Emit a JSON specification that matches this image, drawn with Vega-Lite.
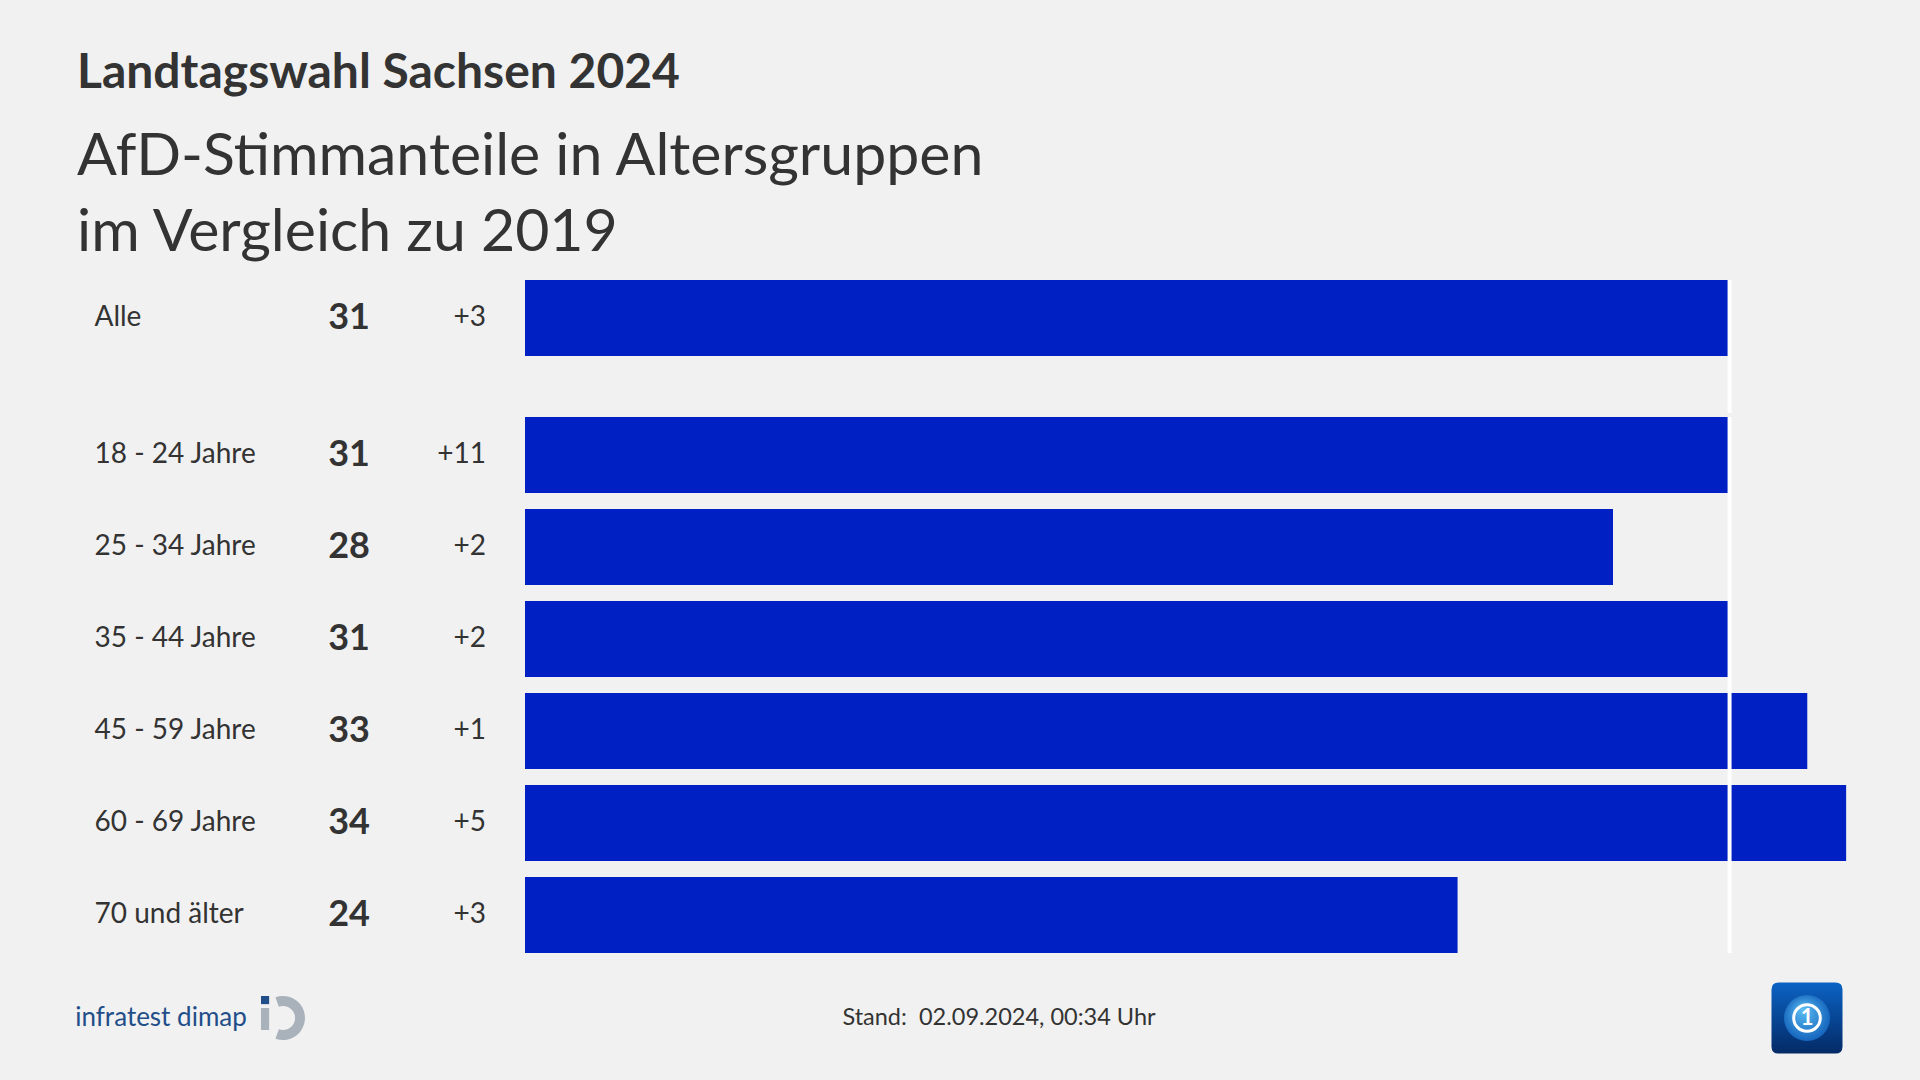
{
  "$schema": "https://vega.github.io/schema/vega-lite/v6.json",
  "background": "#f1f1f1",
  "padding": {"left": 75, "top": 50, "right": 35, "bottom": 5},
  "config": {
    "view": {"stroke": null},
    "text": {"font": "Lato", "color": "#333333"},
    "axis": {"labelFont": "Lato"}
  },
  "title": {
    "text": "Landtagswahl Sachsen 2024",
    "subtitle": ["AfD-Stimmanteile in Altersgruppen", "im Vergleich zu 2019"],
    "anchor": "start",
    "frame": "bounds",
    "font": "Lato",
    "fontSize": 48,
    "fontWeight": "bold",
    "color": "#333333",
    "subtitleFont": "Lato",
    "subtitleFontSize": 59,
    "subtitleFontWeight": "normal",
    "subtitleColor": "#333333",
    "subtitleLineHeight": 76,
    "subtitlePadding": 30,
    "offset": 15,
    "dx": 2
  },
  "datasets": {
    "alle": [
      {"gruppe": "Alle", "anteil": 31, "diff": 3}
    ],
    "alter": [
      {"gruppe": "18 - 24 Jahre", "anteil": 31, "diff": 11},
      {"gruppe": "25 - 34 Jahre", "anteil": 28, "diff": 2},
      {"gruppe": "35 - 44 Jahre", "anteil": 31, "diff": 2},
      {"gruppe": "45 - 59 Jahre", "anteil": 33, "diff": 1},
      {"gruppe": "60 - 69 Jahre", "anteil": 34, "diff": 5},
      {"gruppe": "70 und älter", "anteil": 24, "diff": 3}
    ],
    "footer": [
      {"quelle": "infratest dimap", "stand": "Stand: \u00a002.09.2024, 00:34 Uhr", "sender": "1"}
    ]
  },
  "spacing": 0,
  "vconcat": [
    {
      "spacing": 0,
      "bounds": "flush",
      "hconcat": [
        {
          "width": 176, "height": 133,
          "data": {"name": "footer"},
          "mark": {"type": "text"},
          "encoding": {"text": {"value": ""}}
        },
        {
          "width": 196, "height": 133,
          "data": {"name": "alle"},
          "mark": {"type": "text", "fontWeight": "bold", "fontSize": 36, "align": "center", "baseline": "middle"},
          "encoding": {
            "y": {"field": "gruppe", "type": "nominal", "sort": null,
                  "scale": {"type": "band", "paddingInner": 0.174, "paddingOuter": 0.31, "align": 0, "round": false},
                  "axis": {"title": null, "domain": false, "ticks": false, "labelAlign": "left", "labelPadding": 157, "labelFontSize": 28, "labelColor": "#333333", "labelLimit": 0}},
            "text": {"field": "anteil", "type": "quantitative"}
          }
        },
        {
          "width": 78, "height": 133,
          "data": {"name": "alle"},
          "mark": {"type": "text", "fontSize": 28, "align": "right", "baseline": "middle"},
          "encoding": {
            "y": {"field": "gruppe", "type": "nominal", "sort": null,
                  "scale": {"type": "band", "paddingInner": 0.174, "paddingOuter": 0.31, "align": 0, "round": false},
                  "axis": null},
            "text": {"field": "diff", "type": "quantitative", "format": "+d"}
          }
        },
        {
          "width": 1360, "height": 133,
          "layer": [
            {
              "data": {"name": "alle"},
              "mark": {"type": "bar", "color": "#0020c4"},
              "encoding": {
                "y": {"field": "gruppe", "type": "nominal", "sort": null,
                      "scale": {"type": "band", "paddingInner": 0.174, "paddingOuter": 0.31, "align": 0, "round": false},
                      "axis": null},
                "x": {"field": "anteil", "type": "quantitative", "scale": {"domain": [0, 35], "nice": false}, "axis": null}
              }
            },
            {
              "data": {"name": "alle"},
              "mark": {"type": "rule", "color": "#ffffff", "strokeWidth": 4},
              "encoding": {
                "x": {"field": "anteil", "type": "quantitative"}
              }
            }
          ]
        }
      ]
    },
    {
      "spacing": 0,
      "bounds": "flush",
      "hconcat": [
        {
          "width": 176, "height": 536,
          "data": {"name": "footer"},
          "mark": {"type": "text"},
          "encoding": {"text": {"value": ""}}
        },
        {
          "width": 196, "height": 536,
          "data": {"name": "alter"},
          "mark": {"type": "text", "fontWeight": "bold", "fontSize": 36, "align": "center", "baseline": "middle"},
          "encoding": {
            "y": {"field": "gruppe", "type": "nominal", "sort": null,
                  "scale": {"type": "band", "paddingInner": 0.174, "paddingOuter": 0, "round": false},
                  "axis": {"title": null, "domain": false, "ticks": false, "labelAlign": "left", "labelPadding": 157, "labelFontSize": 28, "labelColor": "#333333", "labelLimit": 0}},
            "text": {"field": "anteil", "type": "quantitative"}
          }
        },
        {
          "width": 78, "height": 536,
          "data": {"name": "alter"},
          "mark": {"type": "text", "fontSize": 28, "align": "right", "baseline": "middle"},
          "encoding": {
            "y": {"field": "gruppe", "type": "nominal", "sort": null,
                  "scale": {"type": "band", "paddingInner": 0.174, "paddingOuter": 0, "round": false},
                  "axis": null},
            "text": {"field": "diff", "type": "quantitative", "format": "+d"}
          }
        },
        {
          "width": 1360, "height": 536,
          "layer": [
            {
              "data": {"name": "alter"},
              "mark": {"type": "bar", "color": "#0020c4"},
              "encoding": {
                "y": {"field": "gruppe", "type": "nominal", "sort": null,
                      "scale": {"type": "band", "paddingInner": 0.174, "paddingOuter": 0, "round": false},
                      "axis": null},
                "x": {"field": "anteil", "type": "quantitative", "scale": {"domain": [0, 35], "nice": false}, "axis": null}
              }
            },
            {
              "data": {"name": "alle"},
              "mark": {"type": "rule", "color": "#ffffff", "strokeWidth": 4},
              "encoding": {
                "x": {"field": "anteil", "type": "quantitative"}
              }
            }
          ]
        }
      ]
    },
    {
      "spacing": 0,
      "bounds": "flush",
      "hconcat": [
        {
          "width": 172, "height": 126,
          "data": {"name": "footer"},
          "mark": {"type": "text", "fontSize": 26, "color": "#1f4e89", "align": "center", "baseline": "middle"},
          "encoding": {"text": {"field": "quelle", "type": "nominal"}}
        },
        {
          "width": 72, "height": 126,
          "data": {"name": "footer"},
          "layer": [
            {
              "mark": {"type": "point", "shape": "M-0.342,-0.94A1,1 0 1 1 -0.342,0.94L-0.188,0.517A0.55,0.55 0 1 0 -0.188,-0.517Z M-1,-0.45H-0.63V0.55H-1Z", "size": 1936, "filled": true, "color": "#a9b1ba", "opacity": 1},
              "encoding": {}
            },
            {
              "mark": {"type": "point", "shape": "M-1,-1H-0.63V-0.63H-1Z", "size": 1936, "filled": true, "color": "#1f4e89", "opacity": 1},
              "encoding": {}
            }
          ]
        },
        {
          "width": 1360, "height": 126,
          "data": {"name": "footer"},
          "mark": {"type": "text", "fontSize": 23.5, "align": "center", "baseline": "middle"},
          "encoding": {"text": {"field": "stand", "type": "nominal"}}
        },
        {
          "width": 92, "height": 126,
          "data": {"name": "footer"},
          "mark": {"type": "text"},
          "encoding": {"text": {"value": ""}}
        },
        {
          "width": 72, "height": 126,
          "data": {"name": "footer"},
          "layer": [
            {
              "mark": {"type": "point", "shape": "M-0.8,-1H0.8Q1,-1 1,-0.8V0.8Q1,1 0.8,1H-0.8Q-1,1 -1,0.8V-0.8Q-1,-1 -0.8,-1Z", "size": 5041, "filled": true, "opacity": 1,
                       "fill": {"gradient": "linear", "x1": 0, "y1": 0, "x2": 0, "y2": 1, "stops": [{"offset": 0, "color": "#0b63c4"}, {"offset": 1, "color": "#042a66"}]}},
              "encoding": {}
            },
            {
              "mark": {"type": "point", "shape": "circle", "size": 2124, "filled": true, "opacity": 1,
                       "fill": {"gradient": "radial", "x1": 0.4, "y1": 0.3, "x2": 0.5, "y2": 0.5, "r1": 0, "r2": 0.6, "stops": [{"offset": 0, "color": "#5fc0f5"}, {"offset": 1, "color": "#0a58b5"}]}},
              "encoding": {}
            },
            {
              "mark": {"type": "point", "shape": "circle", "size": 707, "filled": false, "stroke": "#ffffff", "strokeWidth": 3, "opacity": 1},
              "encoding": {}
            },
            {
              "mark": {"type": "text", "fontSize": 22, "fontWeight": "bold", "color": "#ffffff", "align": "center", "baseline": "middle"},
              "encoding": {"text": {"field": "sender", "type": "nominal"}}
            }
          ]
        }
      ]
    }
  ]
}
